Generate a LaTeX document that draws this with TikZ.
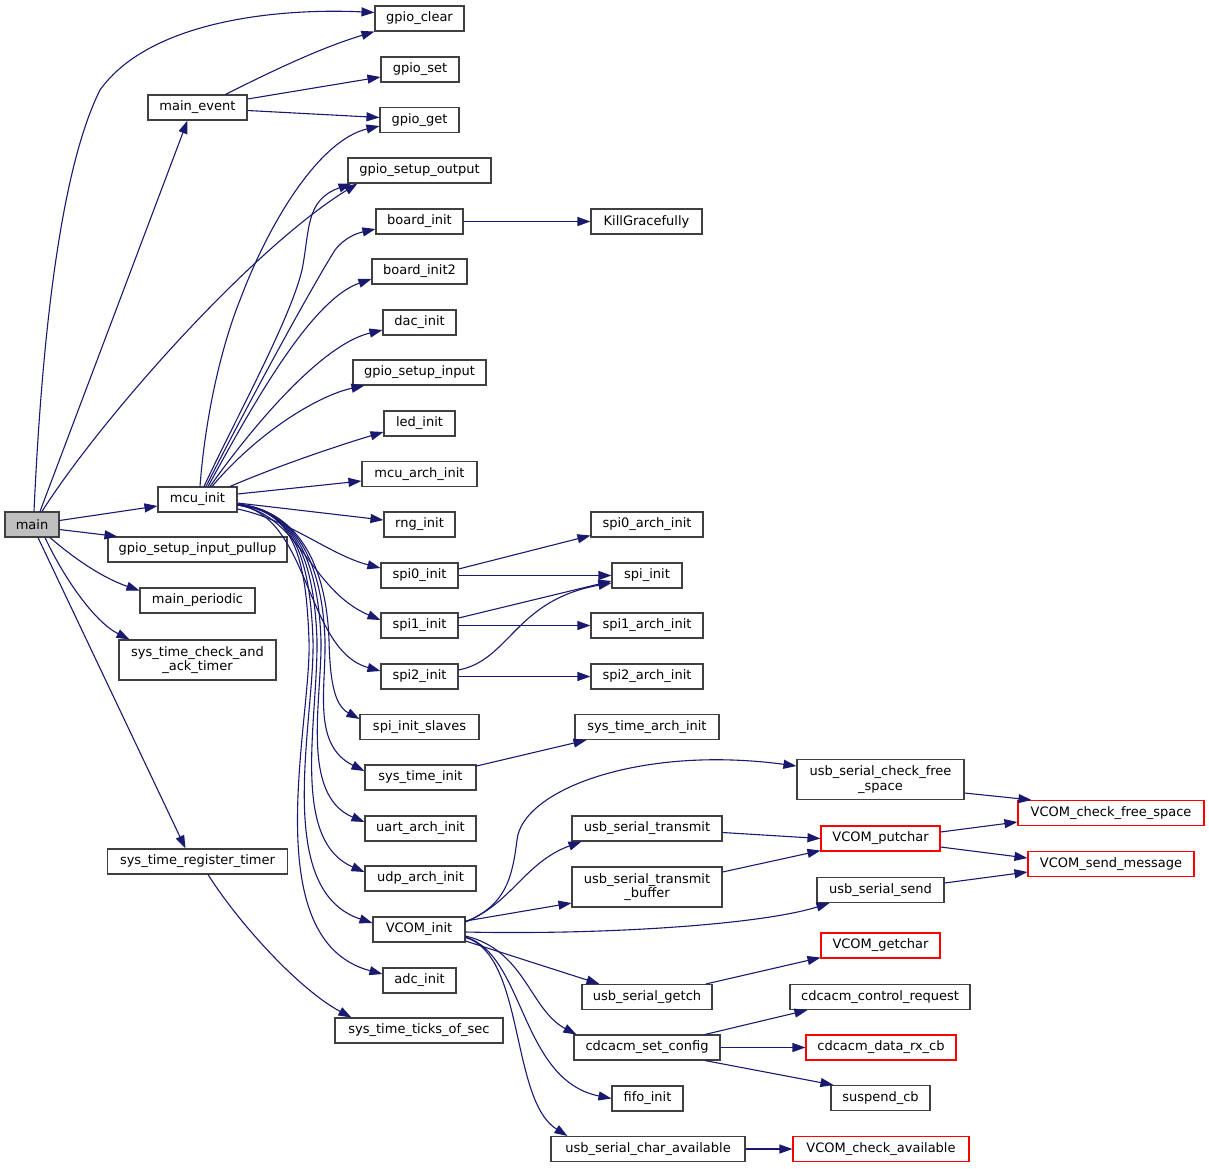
\documentclass[tikz,border=0pt]{standalone}
\usepackage{fontspec}
\setmainfont{DejaVu Sans}
\usetikzlibrary{arrows.meta}
\definecolor{edgeblue}{RGB}{25,25,112}
\definecolor{boxgray}{RGB}{64,64,64}
\definecolor{mainfill}{RGB}{191,191,191}
\begin{document}
\begin{tikzpicture}[x=1pt,y=-1pt,
  fn/.style={draw=boxgray, line width=1.1pt, fill=white, inner sep=0pt, minimum height=25pt,
    font=\fontsize{13}{14.8}\selectfont, align=center},
  fntwo/.style={fn, minimum height=40pt},
  redfn/.style={fn, draw=red},
  calls/.style={draw=edgeblue, line width=1.1pt, -{Triangle[length=13pt,width=9pt]}}]
\useasboundingbox (0,0) rectangle (1209,1168);
% column 1
\node[fn, fill=mainfill, minimum width=54] (main) at (32,524.5) {main};
% column 2
\node[fn, minimum width=99] (me) at (197.5,107.5) {main\_event};
\node[fn, minimum width=79] (mcu) at (197.5,499.5) {mcu\_init};
\node[fn, minimum width=179] (gsip) at (197.5,549.5) {gpio\_setup\_input\_pullup};
\node[fn, minimum width=115] (mp) at (197.5,600.5) {main\_periodic};
\node[fntwo, minimum width=157] (stcat) at (197.5,660) {sys\_time\_check\_and\\\_ack\_timer};
\node[fn, minimum width=180] (strt) at (197.5,861.5) {sys\_time\_register\_timer};
% column 3
\node[fn, minimum width=89] (gc) at (419.5,18.5) {gpio\_clear};
\node[fn, minimum width=78] (gs) at (420,69.5) {gpio\_set};
\node[fn, minimum width=79] (gg) at (419.5,120) {gpio\_get};
\node[fn, minimum width=143] (gso) at (419.5,170.5) {gpio\_setup\_output};
\node[fn, minimum width=87] (bi) at (419.5,221.5) {board\_init};
\node[fn, minimum width=95] (bi2) at (419.5,271.5) {board\_init2};
\node[fn, minimum width=73] (dac) at (419.5,322.5) {dac\_init};
\node[fn, minimum width=133] (gsi) at (419.5,372.5) {gpio\_setup\_input};
\node[fn, minimum width=71] (led) at (419.5,423.5) {led\_init};
\node[fn, minimum width=115] (mai) at (419.5,474) {mcu\_arch\_init};
\node[fn, minimum width=71] (rng) at (419.5,524.5) {rng\_init};
\node[fn, minimum width=77] (spi0) at (419.5,575.5) {spi0\_init};
\node[fn, minimum width=77] (spi1) at (419.5,625.5) {spi1\_init};
\node[fn, minimum width=77] (spi2) at (419.5,676.5) {spi2\_init};
\node[fn, minimum width=119] (sis) at (419.5,727) {spi\_init\_slaves};
\node[fn, minimum width=111] (sti) at (420.5,777.5) {sys\_time\_init};
\node[fn, minimum width=111] (uai) at (420.5,828.5) {uart\_arch\_init};
\node[fn, minimum width=111] (udp) at (420.5,878.5) {udp\_arch\_init};
\node[fn, minimum width=92] (vi) at (419,929.5) {VCOM\_init};
\node[fn, minimum width=73] (adc) at (419.5,980.5) {adc\_init};
\node[fn, minimum width=168] (stts) at (419,1030.5) {sys\_time\_ticks\_of\_sec};
% column 4
\node[fn, minimum width=111] (kg) at (646.5,221.5) {KillGracefully};
\node[fn, minimum width=112] (s0a) at (647,524.5) {spi0\_arch\_init};
\node[fn, minimum width=70] (si) at (647,575.5) {spi\_init};
\node[fn, minimum width=112] (s1a) at (647,625.5) {spi1\_arch\_init};
\node[fn, minimum width=112] (s2a) at (647,676.5) {spi2\_arch\_init};
\node[fn, minimum width=144] (sta) at (647,727) {sys\_time\_arch\_init};
\node[fn, minimum width=150] (ust) at (647,828.5) {usb\_serial\_transmit};
\node[fntwo, minimum width=150] (ustb) at (647,887) {usb\_serial\_transmit\\\_buffer};
\node[fn, minimum width=130] (usg) at (647,997) {usb\_serial\_getch};
\node[fn, minimum width=146] (csc) at (647,1047.5) {cdcacm\_set\_config};
\node[fn, minimum width=71] (fifo) at (647.5,1098.5) {fifo\_init};
\node[fn, minimum width=194] (usca) at (648,1149) {usb\_serial\_char\_available};
% column 5
\node[fntwo, minimum width=167] (uscf) at (880.5,779.5) {usb\_serial\_check\_free\\\_space};
\node[redfn, minimum width=119] (vp) at (880.5,838.5) {VCOM\_putchar};
\node[fn, minimum width=127] (uss) at (880.5,890) {usb\_serial\_send};
\node[redfn, minimum width=119] (vg) at (880.5,945.5) {VCOM\_getchar};
\node[fn, minimum width=180] (ccr) at (880,997) {cdcacm\_control\_request};
\node[redfn, minimum width=150] (cdrx) at (881,1047.5) {cdcacm\_data\_rx\_cb};
\node[fn, minimum width=99] (scb) at (880.5,1098) {suspend\_cb};
\node[redfn, minimum width=176] (vca) at (881,1149) {VCOM\_check\_available};
% column 6
\node[redfn, minimum width=186] (vcfs) at (1111,813) {VCOM\_check\_free\_space};
\node[redfn, minimum width=166] (vsm) at (1111,864) {VCOM\_send\_message};

% edges from main
\draw[calls] ([xshift=2]main.north) .. controls (40,380) and (55,180) .. (100,90) .. controls (150,20) and (280,8) .. ([yshift=6]gc.west);
\draw[calls] ([xshift=8]main.north) -- ([xshift=-10]me.south);
\draw[calls] ([xshift=10]main.north) .. controls (100,420) and (250,250) .. ([xshift=10]gso.south west);
\draw[calls] ([yshift=4]main.east) -- ([yshift=-6.5]mcu.west);
\draw[calls] ([yshift=-5]main.east) -- ([xshift=10]gsip.north west);
\draw[calls] ([xshift=18]main.south) .. controls (70,555) and (100,577) .. ([yshift=10]mp.west);
\draw[calls] ([xshift=13]main.south) .. controls (65,580) and (95,622) .. ([xshift=11]stcat.north west);
\draw[calls] ([xshift=6]main.south) -- ([xshift=-12]strt.north);
% main_event
\draw[calls] ([xshift=28]me.north) .. controls (270,72) and (320,48) .. (gc.south west);
\draw[calls] ([yshift=8.5]me.east) -- ([yshift=-7.5]gs.west);
\draw[calls] ([yshift=-3]me.east) -- ([yshift=2.5]gg.west);
% mcu_init upward
\draw[calls] ([xshift=2.5]mcu.north) .. controls (205,420) and (220,350) .. (240,300) .. controls (270,220) and (320,140) .. ([yshift=-6]gg.west);
\draw[calls] ([xshift=6.5]mcu.north) .. controls (235,420) and (290,320) .. (302,270) .. controls (310,230) and (305,200) .. ([xshift=4]gso.south west);
\draw[calls] ([xshift=8.5]mcu.north) .. controls (250,400) and (310,290) .. (335,250) .. controls (345,237) and (358,233) .. ([yshift=-7.5]bi.west);
\draw[calls] ([xshift=10.5]mcu.north) .. controls (250,410) and (310,300) .. ([yshift=-7.5]bi2.west);
\draw[calls] ([xshift=12.5]mcu.north) .. controls (250,430) and (320,345) .. ([yshift=-7.5]dac.west);
\draw[calls] ([xshift=14.5]mcu.north) .. controls (260,430) and (320,395) .. ([xshift=12]gsi.south west);
\draw[calls] ([xshift=32.5]mcu.north) .. controls (280,465) and (340,445) .. ([yshift=-8.5]led.west);
\draw[calls] ([yshift=5.5]mcu.east) -- ([yshift=-7]mai.west);
\draw[calls] ([yshift=-3.5]mcu.east) -- ([yshift=4.5]rng.west);
\draw[calls] ([yshift=-9.5]mcu.east) .. controls (290,520) and (330,555) .. ([yshift=7.5]spi0.west);
\draw[calls] ([yshift=-5.5]mcu.east) .. controls (300,515) and (310,590) .. ([yshift=5.5]spi1.west);
\draw[calls] ([yshift=-5.5]mcu.east) .. controls (310,515) and (305,650) .. ([yshift=5.5]spi2.west);
% mcu_init downward fan
\draw[calls] ([yshift=-4.5]mcu.east) .. controls (295,510) and (326,560) .. (329,640) .. controls (330,680) and (334,705) .. ([yshift=8]sis.west);
\draw[calls] ([yshift=-4.5]mcu.east) .. controls (295,510) and (322,560) .. (325,640) .. controls (326,690) and (312,745) .. ([yshift=6.5]sti.west);
\draw[calls] ([yshift=-5]mcu.east) .. controls (295,510) and (318,560) .. (321,640) .. controls (322,700) and (300,795) .. ([yshift=6.5]uai.west);
\draw[calls] ([yshift=-5]mcu.east) .. controls (295,510) and (314,560) .. (317,640) .. controls (318,720) and (290,840) .. ([yshift=6.5]udp.west);
\draw[calls] ([yshift=-5.5]mcu.east) .. controls (295,510) and (310,560) .. (313,640) .. controls (315,720) and (272,890) .. ([yshift=6.5]vi.west);
\draw[calls] ([yshift=-5.5]mcu.east) .. controls (295,510) and (306,560) .. (309,640) .. controls (312,720) and (255,940) .. ([yshift=6.5]adc.west);
% sys_time_register_timer
\draw[calls] ([xshift=10.5]strt.south) .. controls (240,925) and (300,990) .. ([xshift=17]stts.north west);
% column 3 outgoing
\draw[calls] (bi.east) -- (kg.west);
\draw[calls] ([yshift=6.5]spi0.east) -- ([yshift=-11]s0a.west);
\draw[calls] (spi0.east) -- (si.west);
\draw[calls] ([yshift=7.5]spi1.east) -- ([yshift=-5.5]si.west);
\draw[calls] (spi1.east) -- (s1a.west);
\draw[calls] ([yshift=6.5]spi2.east) .. controls (510,660) and (515,600) .. ([yshift=-7.5]si.west);
\draw[calls] (spi2.east) -- (s2a.west);
\draw[calls] ([yshift=11.5]sti.east) -- ([xshift=12]sta.south west);
% VCOM_init
\draw[calls] ([yshift=7.5]vi.east) .. controls (505,905) and (512,880) .. (517,840) .. controls (522,790) and (640,745) .. ([yshift=13.5]uscf.west);
\draw[calls] ([yshift=8]vi.east) .. controls (510,905) and (525,862) .. ([xshift=10]ust.south west);
\draw[calls] ([yshift=8.5]vi.east) -- ([yshift=-16]ustb.west);
\draw[calls] ([yshift=-2.5]vi.east) .. controls (600,935) and (760,925) .. ([xshift=13]uss.south west);
\draw[calls] ([yshift=-11.5]vi.east) -- ([xshift=18]usg.north west);
\draw[calls] ([yshift=-6.5]vi.east) .. controls (525,950) and (530,1010) .. ([xshift=3]csc.north west);
\draw[calls] ([yshift=-7.5]vi.east) .. controls (525,955) and (520,1080) .. (fifo.west);
\draw[calls] ([yshift=-8]vi.east) .. controls (525,955) and (510,1100) .. ([xshift=17]usca.north west);
% column 4 outgoing
\draw[calls] ([yshift=-13.5]uscf.east) -- ([xshift=14]vcfs.north west);
\draw[calls] ([yshift=-4]ust.east) -- (vp.west);
\draw[calls] ([yshift=15]ustb.east) -- ([yshift=1]vp.south west);
\draw[calls] ([yshift=6.5]vp.east) -- ([yshift=-9]vcfs.west);
\draw[calls] ([yshift=-8.5]vp.east) -- ([yshift=6]vsm.west);
\draw[calls] ([yshift=7]uss.east) -- ([yshift=-8]vsm.west);
\draw[calls] ([xshift=59]usg.north) -- ([yshift=1]vg.south west);
\draw[calls] ([xshift=58]csc.north) -- ([xshift=18]ccr.south west);
\draw[calls] (csc.east) -- (cdrx.west);
\draw[calls] ([xshift=58]csc.south) -- ([xshift=3]scb.north west);
\draw[calls] (usca.east) -- (vca.west);
\end{tikzpicture}
\end{document}
